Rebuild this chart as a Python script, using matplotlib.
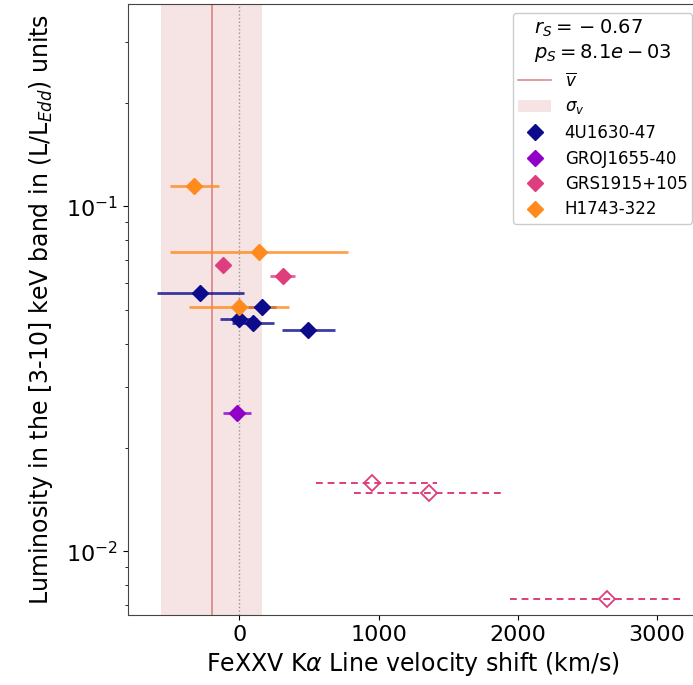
import matplotlib
matplotlib.use("Agg")
import matplotlib.pyplot as plt
from matplotlib.ticker import MultipleLocator
import numpy as np

# Data (velocity shift km/s, error, luminosity)
src_4u_v = [-280, 163, -5, 96, 494]
src_4u_err = [315, 100, 135, 150, 190]
src_4u_L = [0.0560, 0.0511, 0.0471, 0.0459, 0.0438]

src_gro_v = [-17]
src_gro_err = [103]
src_gro_L = [0.0252]

src_grs_v = [-115, 311]
src_grs_err = [0, 90]
src_grs_L = [0.0676, 0.0630]

src_grs_open_v = [953, 1360, 2641]
src_grs_open_err_lo = [402, 534, 695]
src_grs_open_err_hi = [467, 544, 544]
src_grs_open_L = [0.0158, 0.0148, 0.0073]

src_h_v = [-323, 144, 0]
src_h_err = [175, 640, 360]
src_h_L = [0.1149, 0.0738, 0.0512]

v_mean = -198
v_sigma = 363

names = ["4U1630-47", "GROJ1655-40", "GRS1915+105", "H1743-322"]
colors = ["#0b0b8c", "#9000c8", "#de3d7e", "#ff8a1e"]

W, H = 693, 685
fig = plt.figure(figsize=(W / 100, H / 100), dpi=100)
ax = fig.add_axes([128 / W, 1 - 615 / H, (698 - 128) / W, (615 - 4) / H])

band = ax.axvspan(v_mean - v_sigma, v_mean + v_sigma, color="indianred", alpha=0.17, lw=0, zorder=0)
mline = ax.axvline(v_mean, color="indianred", alpha=0.7, lw=1.2, zorder=1)
ax.axvline(0, color="gray", ls=":", lw=1.0, alpha=0.8, zorder=1)

data = [
    (src_4u_v, src_4u_err, src_4u_L),
    (src_gro_v, src_gro_err, src_gro_L),
    (src_grs_v, src_grs_err, src_grs_L),
    (src_h_v, src_h_err, src_h_L),
]
handles = [mline, band]
labels = [r"$\overline{v}$", r"$\sigma_v$"]
for (v, e, L), c, n in zip(data, colors, names):
    ax.errorbar(v, L, xerr=e, fmt="none", ecolor=c, elinewidth=2, alpha=0.8, zorder=2)
    h, = ax.plot(v, L, "D", color=c, ms=8, ls="none", zorder=3)
    handles.append(h)
    labels.append(n)

eb = ax.errorbar(src_grs_open_v, src_grs_open_L,
                 xerr=[src_grs_open_err_lo, src_grs_open_err_hi], fmt="D",
                 mfc="none", mec=colors[2], ms=8, mew=1.3, ecolor=colors[2],
                 elinewidth=1.4, zorder=3)
eb[-1][0].set_linestyle((0, (3.5, 2.5)))

ax.set_yscale("log")
ax.set_xlim(-800, 3295)
ax.set_ylim(0.00654, 0.386)
ax.xaxis.set_major_locator(MultipleLocator(1000))

ax.set_xlabel(r"FeXXV K$\alpha$ Line velocity shift (km/s)", fontsize=17)
ax.set_ylabel(r"Luminosity in the [3-10] keV band in (L/L$_{Edd}$) units", fontsize=17, labelpad=8)
ax.tick_params(axis="both", labelsize=16)

for s in ax.spines.values():
    s.set_color("#444444")

title = r"$r_S = {} - 0.67$" + "\n" + r"$p_S = 8.1e-03$"
leg = ax.legend(handles, labels, title=title, loc="upper left",
                bbox_to_anchor=(513 / W, 1 - 13 / H), bbox_transform=fig.transFigure,
                borderaxespad=0, fontsize=12, title_fontsize=14, framealpha=1.0,
                labelspacing=0.45, borderpad=0.3)
leg.get_frame().set_edgecolor("#cccccc")

fig.savefig("out.png", dpi=100)
